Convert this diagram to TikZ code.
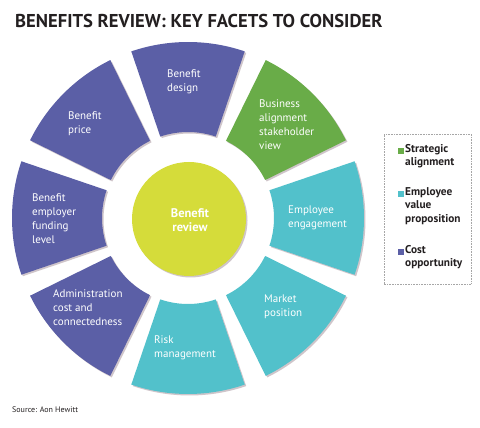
\documentclass[tikz,border=0pt]{standalone}
\usepackage{fontspec}
\setmainfont{PT Sans}
\usetikzlibrary{shadows}
\definecolor{cpurple}{RGB}{91,95,166}
\definecolor{cgreen}{RGB}{105,172,72}
\definecolor{cteal}{RGB}{82,193,203}
\definecolor{cyellow}{RGB}{213,220,58}
\definecolor{ctext}{RGB}{35,31,32}
\definecolor{cshadow}{RGB}{120,90,105}
\tikzset{
  segshadow/.style={drop shadow={shadow xshift=1.5pt, shadow yshift=-1.5pt, opacity=0.35, fill=cshadow}},
  seglabel/.style={inner sep=0pt, text=white, align=left, anchor=west, font=\fontsize{11}{14}\selectfont},
  legtext/.style={inner sep=0pt, text=ctext, align=left, anchor=north west, font=\bfseries\fontsize{11.3}{13.5}\selectfont},
  legsq/.style={inner sep=0pt, minimum size=6.5pt, anchor=west}
}
\newcommand{\ringseg}[2]{%
  \fill[#2, segshadow] (#1-18.8:86) -- (#1-18.8:176) arc[start angle=#1-18.8, end angle=#1+18.8, radius=176] -- (#1+18.8:86) arc[start angle=#1+18.8, end angle=#1-18.8, radius=86] -- cycle;}
\begin{document}
\begin{tikzpicture}[x=1pt,y=1pt]
\useasboundingbox (0,0) rectangle (480,428);
\fill[white] (0,0) rectangle (480,428);
% title
\node[inner sep=0pt, anchor=west, text=ctext, font=\bfseries\fontsize{18.6}{20}\selectfont] (title) at (15,407.5) {BENEFITS REVIEW: KEY FACETS TO CONSIDER};
% ring
\begin{scope}[shift={(188,210)}]
  \ringseg{90}{cpurple}
  \ringseg{45}{cgreen}
  \ringseg{0}{cteal}
  \ringseg{-45}{cteal}
  \ringseg{-90}{cteal}
  \ringseg{-135}{cpurple}
  \ringseg{180}{cpurple}
  \ringseg{135}{cpurple}
  \fill[cyellow, segshadow] (1,-1) circle (57);
\end{scope}
% labels
\node[seglabel] (design) at (167,346) {Benefit\\design};
\node[seglabel] (price) at (68,304.5) {Benefit\\price};
\node[seglabel] (funding) at (32,209.5) {Benefit\\employer\\funding\\level};
\node[seglabel] (admin) at (53,120) {Administration\\cost and\\connectedness};
\node[seglabel] (risk) at (154,80.5) {Risk\\management};
\node[seglabel] (market) at (264,121) {Market\\position};
\node[seglabel] (engage) at (288,210.5) {Employee\\engagement};
\node[seglabel] (business) at (259,303) {Business\\alignment\\stakeholder\\view};
\node[inner sep=0pt, text=white, align=center, font=\bfseries\fontsize{12.5}{14.5}\selectfont] (review) at (190,208) {Benefit\\review};
% legend
\draw[gray!70, densely dotted, line width=0.6pt] (384,144) rectangle (471,294);
\node[legsq, fill=cgreen] (sq1) at (397.5,277) {};
\node[legtext] (l1) at (405,284) {Strategic\\alignment};
\node[legsq, fill=cteal] (sq2) at (397.5,234) {};
\node[legtext] (l2) at (405,241) {Employee\\value\\proposition};
\node[legsq, fill=cpurple] (sq3) at (397.5,176) {};
\node[legtext] (l3) at (405,183) {Cost\\opportunity};
% source
\node[inner sep=0pt, anchor=west, text=ctext, font=\fontsize{8}{9}\selectfont] (source) at (12,18) {Source: Aon Hewitt};
\end{tikzpicture}
\end{document}
